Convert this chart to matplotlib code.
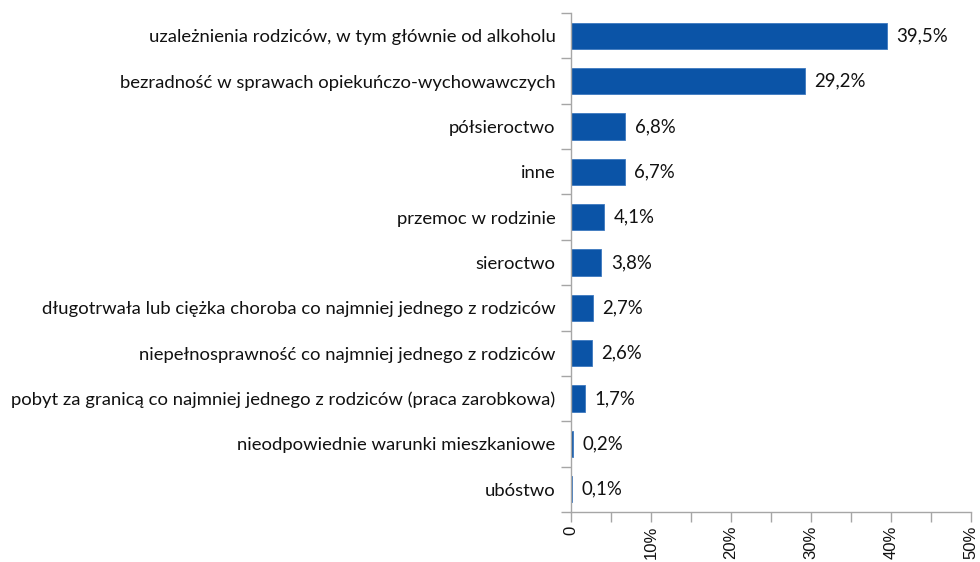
import numpy as np
import matplotlib.pyplot as plt
from matplotlib.ticker import FixedLocator

plt.rcParams['font.family'] = ['Lato', 'DejaVu Sans']

categories = [
    "uzależnienia rodziców, w tym głównie od alkoholu",
    "bezradność w sprawach opiekuńczo-wychowawczych",
    "półsieroctwo",
    "inne",
    "przemoc w rodzinie",
    "sieroctwo",
    "długotrwała lub ciężka choroba co najmniej jednego z rodziców",
    "niepełnosprawność co najmniej jednego z rodziców",
    "pobyt za granicą co najmniej jednego z rodziców (praca zarobkowa)",
    "nieodpowiednie warunki mieszkaniowe",
    "ubóstwo",
]
values = [39.5, 29.2, 6.8, 6.7, 4.1, 3.8, 2.7, 2.6, 1.7, 0.2, 0.1]
xticks = [0, 10, 20, 30, 40, 50]
xlabels = ["0", "10%", "20%", "30%", "40%", "50%"]

bar_color = "#0B54A7"
axis_color = "#A6A6A6"

fig = plt.figure(figsize=(9.8, 5.62), dpi=100)
ax = fig.add_axes([571 / 980, 1 - 512 / 562, 400 / 980, 499 / 562])

y = np.arange(len(categories))
ax.barh(y, values, height=0.58, color=bar_color, edgecolor="#3D78BF", linewidth=0.6)

for yi, v in zip(y, values):
    ax.text(v + 1.2, yi, f"{v:.1f}%".replace(".", ","), va="center", ha="left",
            fontsize=13.4, color="#111111")

ax.set_xlim(0, 50)
ax.set_ylim(len(categories) - 0.5, -0.5)

ax.set_yticks(y)
ax.set_yticklabels(categories, fontsize=13.3, color="#111111")
ax.yaxis.set_minor_locator(FixedLocator(np.arange(-0.5, len(categories), 1.0)))
ax.tick_params(axis="y", which="major", length=0, pad=11)
ax.tick_params(axis="y", which="minor", length=7, color=axis_color, width=1)

ax.set_xticks(xticks)
ax.set_xticklabels(xlabels, rotation=90, fontsize=12, color="#111111",
                   fontfamily="Liberation Sans")
ax.xaxis.set_minor_locator(FixedLocator(np.arange(5, 50, 10)))
ax.tick_params(axis="x", which="both", length=7, color=axis_color, width=1, pad=3)

for s in ["top", "right"]:
    ax.spines[s].set_visible(False)
for s in ["left", "bottom"]:
    ax.spines[s].set_color(axis_color)
    ax.spines[s].set_linewidth(1)

fig.savefig("out.png", dpi=100)
